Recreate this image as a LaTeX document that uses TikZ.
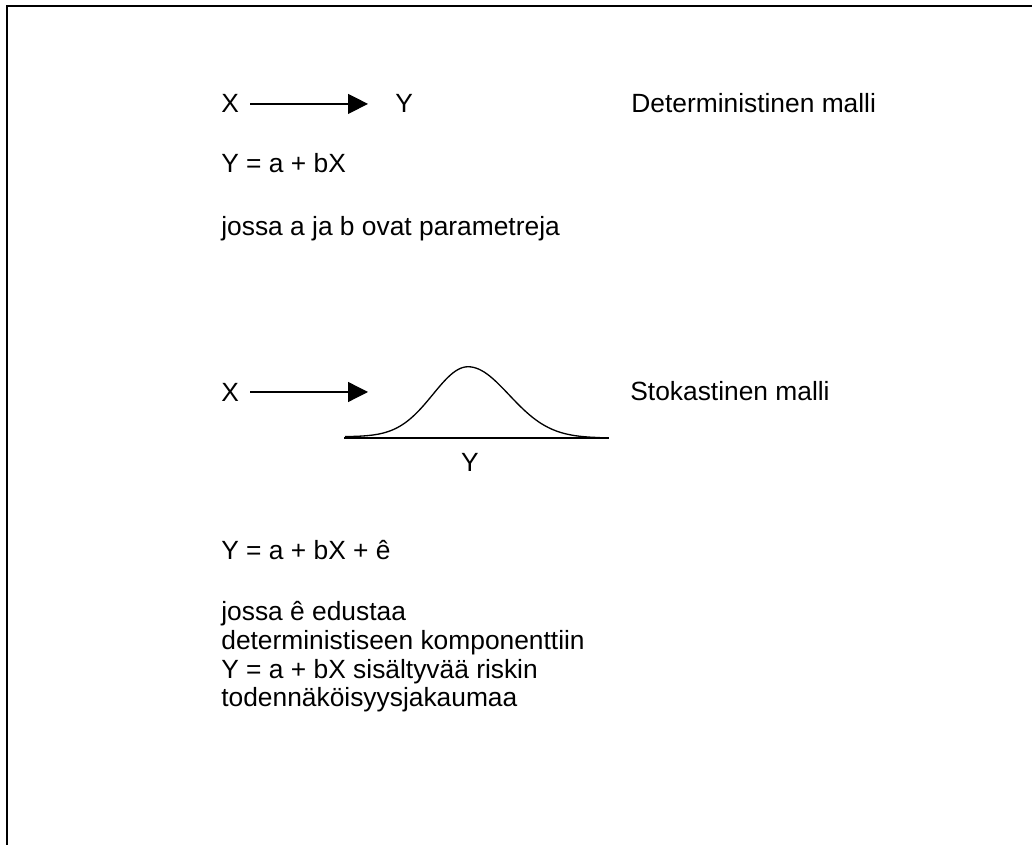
\documentclass[tikz,border=0pt]{standalone}
\usepackage{fontspec}
\setmainfont{Liberation Sans}
\usetikzlibrary{arrows.meta}
\usetikzlibrary{positioning}

\begin{document}
\begin{tikzpicture}
			\def\sigl{0.70}
			\def\sigr{0.82}

			\tikzset{line/.style={draw,line width=0.75pt}}
			\tikzset{arrow/.style={line,-{Triangle[length=0.4cm,width=0.4cm]}}}
			\tikzset{frame/.style={draw,line width=1.1pt}}
			\tikzset{txt/.style={inner sep=0pt,anchor=base west,font=\fontsize{15}{18}\selectfont}}

			\useasboundingbox (0,0) rectangle (20.64,-16.9);
			\draw[frame] (20.64,-0.12) -- (0.14,-0.12) -- (0.14,-16.9);

			% deterministinen malli
			\node[txt] (x1) at (4.42,-2.26) {X};
			\node[txt] (y1) at (7.9,-2.26) {Y};
			\node[txt] (det) at (12.62,-2.26) {Deterministinen malli};
			\node[txt] (eq1) at (4.42,-3.45) {Y = a + bX};
			\node[txt] (par1) at (4.42,-4.71) {jossa a ja b ovat parametreja};

			\path[arrow,shorten <=0.22cm,shorten >=0.54cm] (x1.east) to (y1.west);

			% stokastinen malli
			\node[txt] (x2) at (4.42,-8.04) {X};
			\coordinate (tip) at (7.36,-7.84);
			\node[txt] (sto) at (12.6,-8.02) {Stokastinen malli};
			\node[txt,anchor=base] (y2) at (9.4,-9.44) {Y};

			\path[arrow,shorten <=0.22cm] (x2.east |- tip) to (tip);

			\coordinate (bl) at (6.88,-8.76);
			\coordinate (br) at (12.18,-8.76);
			\path[line] (bl) to (br);
			\draw[line,line join=round] plot[domain=6.9:9.36,samples=50] (\x,{-8.735+1.40*exp(-((\x-9.36)^2)/(2*\sigl*\sigl))})
				-- plot[domain=9.36:12.0,samples=50] (\x,{-8.76+1.425*exp(-((\x-9.36)^2)/(2*\sigr*\sigr))});

			\node[txt] (eq2) at (4.42,-11.19) {Y = a + bX + ê};
			\node[txt] (p1) at (4.42,-12.42) {jossa ê edustaa};
			\node[txt] (p2) at (4.42,-12.99) {deterministiseen komponenttiin};
			\node[txt] (p3) at (4.42,-13.56) {Y = a + bX sisältyvää riskin};
			\node[txt] (p4) at (4.42,-14.13) {todennäköisyysjakaumaa};
		\end{tikzpicture}
\end{document}
